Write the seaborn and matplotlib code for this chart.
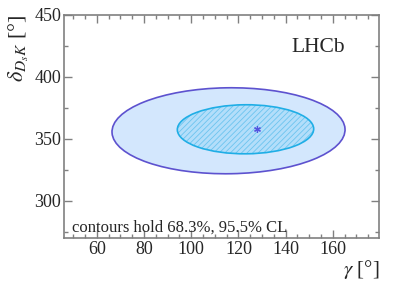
import numpy as np
import pandas as pd
import seaborn as sns
import matplotlib.pyplot as plt
from matplotlib.patches import Ellipse
from matplotlib.ticker import MultipleLocator

# best fit point (gamma, delta) in degrees
best_gamma = [128.0]
best_delta = [358.0]

# contour ellipses: centre, full width, full height, tilt (data units)
cl_levels = ["95.5%", "68.3%"]
centre_gamma = [115.8, 123.0]
centre_delta = [356.5, 357.7]
width_gamma = [98.8, 57.8]
height_delta = [69.4, 39.6]
tilt_deg = [2.0, 1.0]

sns.set_style("ticks")
plt.rcParams['font.family'] = ['Liberation Serif', 'DejaVu Serif']
plt.rcParams['mathtext.fontset'] = 'stix'
plt.rcParams['hatch.linewidth'] = 0.6

fig = plt.figure(figsize=(3.99, 2.88), dpi=100)
ax = fig.add_axes([0.160, 0.174, 0.790, 0.774])

# outer contour (95.5%)
ax.add_patch(Ellipse((centre_gamma[0], centre_delta[0]), width_gamma[0], height_delta[0],
                     angle=tilt_deg[0], facecolor='#d3e7fd', edgecolor='#5d52cf', lw=1.2, zorder=2))
# inner contour (68.3%): fill, hatch, outline
inner = dict(xy=(centre_gamma[1], centre_delta[1]), width=width_gamma[1],
             height=height_delta[1], angle=tilt_deg[1])
ax.add_patch(Ellipse(**inner, facecolor='#b3defa', edgecolor='none', zorder=3))
ax.add_patch(Ellipse(**inner, facecolor='none', edgecolor='#6cc4ef', hatch='//////', lw=0, zorder=4))
ax.add_patch(Ellipse(**inner, facecolor='none', edgecolor='#1faee6', lw=1.2, zorder=5))

pts = pd.DataFrame({"gamma": best_gamma, "delta": best_delta})
sns.scatterplot(data=pts, x="gamma", y="delta", ax=ax, marker=(6, 2, 0), s=18,
                color='#5555e0', linewidth=0.9, zorder=6)

ax.set_xlim(46, 179.6)
ax.set_ylim(270, 450)
ax.xaxis.set_major_locator(MultipleLocator(20))
ax.xaxis.set_minor_locator(MultipleLocator(5))
ax.yaxis.set_major_locator(MultipleLocator(50))
ax.yaxis.set_minor_locator(MultipleLocator(25))
ax.tick_params(which='both', direction='in', top=True, right=True, color='#808080',
               labelsize=13, pad=2)
ax.tick_params(which='major', length=6, width=1)
ax.tick_params(which='minor', length=3, width=1)
for s in ax.spines.values():
    s.set_color('#808080')
    s.set_linewidth(1.2)

ax.set_xlabel(r'$\gamma$ [°]', fontsize=15, loc='right', labelpad=0)
ax.set_ylabel(r'$\delta_{D_s K}$ [°]', fontsize=16, loc='top', labelpad=2)

ax.text(0.806, 0.852, 'LHCb', transform=ax.transAxes, ha='center', va='center', fontsize=15.5)
ax.text(0.025, 0.03, 'contours hold 68.3%, 95.5% CL', transform=ax.transAxes,
        ha='left', va='baseline', fontsize=12)

fig.savefig('out.png', dpi=100)
